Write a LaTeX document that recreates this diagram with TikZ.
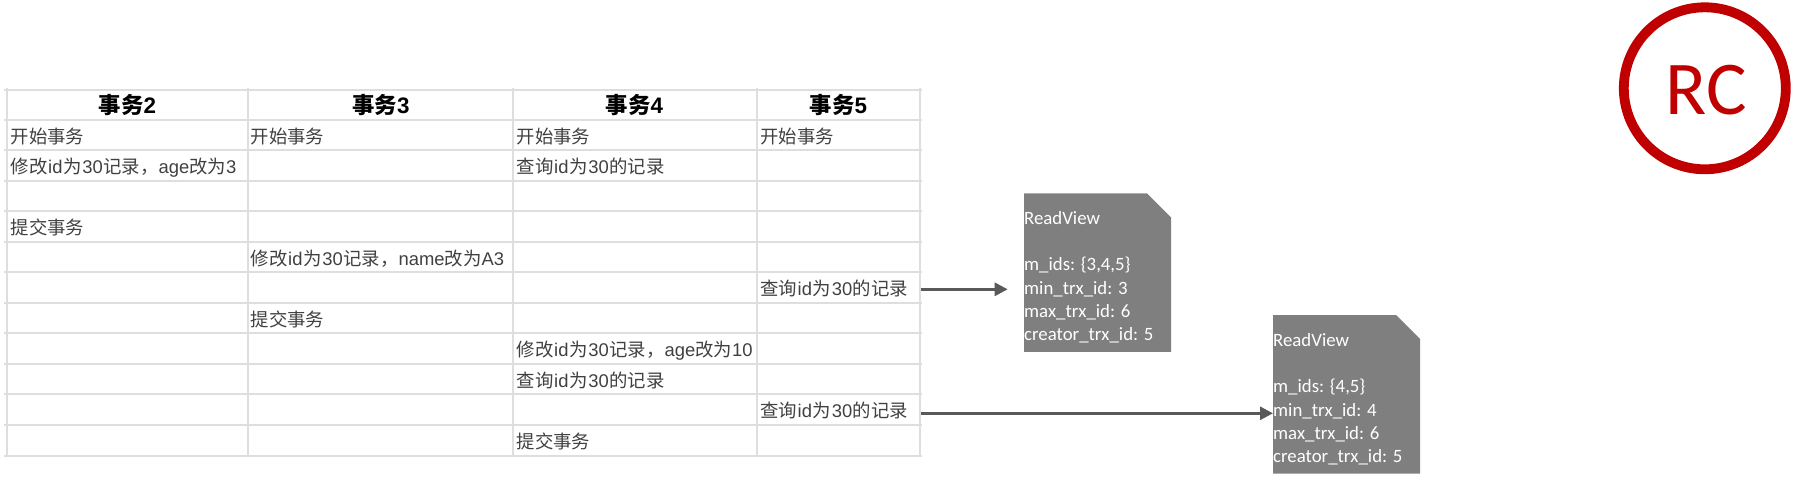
\documentclass[tikz,border=0pt]{standalone}
\usepackage{fontspec}
\usetikzlibrary{arrows.meta}
\setmainfont{Liberation Sans}
\newfontfamily\cjkf{Noto Sans CJK SC}
\newfontfamily\calib{Carlito}
\newcommand{\Z}[1]{{\cjkf #1}}
\newcommand{\Lt}[1]{\kern.7pt #1\kern.7pt}
\definecolor{gridc}{HTML}{DEDEDE}
\definecolor{txtc}{HTML}{404040}
\definecolor{notec}{HTML}{7F7F7F}
\definecolor{arrc}{HTML}{595959}
\definecolor{rcc}{HTML}{C00000}
\tikzset{
  grid line/.style={draw=gridc,line width=2pt},
  celltext/.style={anchor=base west,inner sep=0pt,text=txtc,font=\fontsize{18.4}{22}\selectfont},
  headtext/.style={anchor=base,inner sep=0pt,text=black,font=\fontsize{22.4}{26}\selectfont\bfseries},
  notebox/.style={rectangle,draw=none,inner sep=0pt,outer sep=0pt,anchor=north west,minimum width=147pt,minimum height=158.5pt},
  notetext/.style={anchor=north west,inner sep=0pt,text=white,align=left,
    font=\calib\fontsize{18.8}{23.3}\selectfont},
  conn/.style={draw=arrc,line width=2.8pt,-{Triangle[length=13pt,width=13pt]}},
  rcring/.style={circle,draw=rcc,line width=9.8pt,minimum size=162pt,inner sep=0pt,outer sep=0pt},
  rctext/.style={inner sep=0pt,text=rcc,font=\calib\fontsize{76}{80}\selectfont}
}
\begin{document}
\begin{tikzpicture}[x=1pt,y=-1pt]
\useasboundingbox (0,0) rectangle (1794,482);
% table grid
\foreach \yy in {89.5,119.5,149.5,180.5,210.5,241.5,271.5,302.5,332.5,363.5,393.5,424.5,455.5}
  \draw[grid line] (4,\yy) -- (922,\yy);
\foreach \xx in {6.5,247.5,512.5,756.5,919.5}
  \draw[grid line] (\xx,88) -- (\xx,457);
% header
\node[headtext] (h2) at (127.5,113) {\Z{事务}2};
\node[headtext] (h3) at (381,113) {\Z{事务}3};
\node[headtext] (h4) at (634.5,113) {\Z{事务}4};
\node[headtext] (h5) at (838.5,113) {\Z{事务}5};
% body
\node[celltext] (a1) at (10.5,143) {\Z{开始事务}};
\node[celltext] (b1) at (250.5,143) {\Z{开始事务}};
\node[celltext] (c1) at (516.5,143) {\Z{开始事务}};
\node[celltext] (d1) at (760,143) {\Z{开始事务}};
\node[celltext] (a2) at (10.5,173.5) {\Z{修改}\Lt{id}\Z{为}\Lt{30}\Z{记录，}age\Z{改为}3};
\node[celltext] (c2) at (516.5,173.5) {\Z{查询}\Lt{id}\Z{为}\Lt{30}\Z{的记录}};
\node[celltext] (a4) at (10.5,234.5) {\Z{提交事务}};
\node[celltext] (b5) at (250.5,265) {\Z{修改}\Lt{id}\Z{为}\Lt{30}\Z{记录，}name\Z{改为}A3};
\node[celltext] (q1) at (760,295.5) {\Z{查询}\Lt{id}\Z{为}\Lt{30}\Z{的记录}};
\node[celltext] (b7) at (250.5,326) {\Z{提交事务}};
\node[celltext] (c8) at (516.5,356.5) {\Z{修改}\Lt{id}\Z{为}\Lt{30}\Z{记录，}age\Z{改为}10};
\node[celltext] (c9) at (516.5,387) {\Z{查询}\Lt{id}\Z{为}\Lt{30}\Z{的记录}};
\node[celltext] (q2) at (760,417.5) {\Z{查询}\Lt{id}\Z{为}\Lt{30}\Z{的记录}};
\node[celltext] (c11) at (516.5,448) {\Z{提交事务}};
% notes
\node[notebox] (note1) at (1024,193.3) {};
\fill[notec] (note1.south west) -- (note1.north west) -- ([xshift=-24pt]note1.north east) -- ([yshift=-24pt]note1.north east) -- (note1.south east) -- cycle;
\node[notetext] (note1t) at (1024,211) {ReadView\\[23.3pt]m\_ids: \{3,4,5\}\\min\_trx\_id: 3\\max\_trx\_id: 6\\creator\_trx\_id: 5};
\node[notebox] (note2) at (1273,315) {};
\fill[notec] (note2.south west) -- (note2.north west) -- ([xshift=-24pt]note2.north east) -- ([yshift=-24pt]note2.north east) -- (note2.south east) -- cycle;
\node[notetext] (note2t) at (1273,333) {ReadView\\[23.3pt]m\_ids: \{4,5\}\\min\_trx\_id: 4\\max\_trx\_id: 6\\creator\_trx\_id: 5};
% connectors
\coordinate (t1) at (921,289.3);
\coordinate (e1) at (1007.7,289.3);
\coordinate (t2) at (921,413.3);
\draw[conn] (t1) -- (e1);
\draw[conn] (t2) -- (t2 -| note2.west);
% RC badge
\node[rcring] (rc) at (1704.8,88.3) {};
\node[rctext] (rct) at (1706.5,90) {RC};
\end{tikzpicture}
\end{document}
